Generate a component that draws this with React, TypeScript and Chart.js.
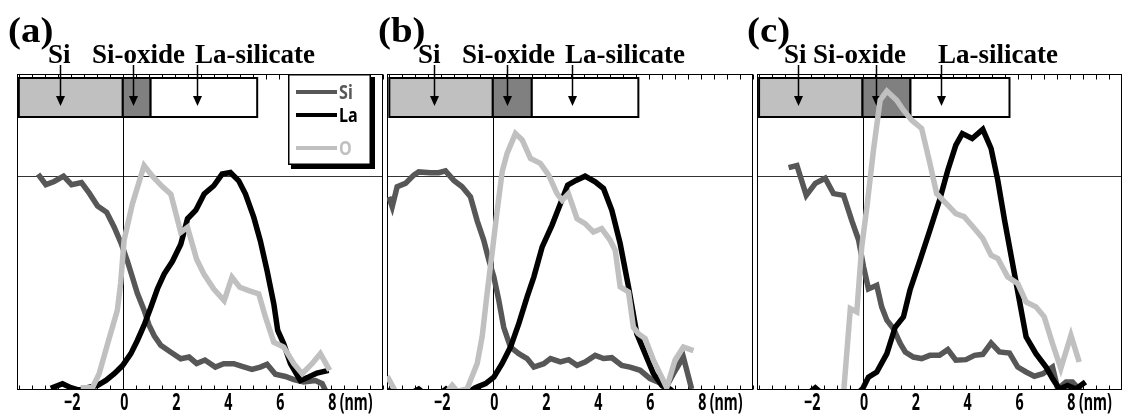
import React, { useEffect, useRef } from "react";
import { Chart, registerables } from "chart.js";

Chart.register(...registerables);

type Pt = [number, number];

// ---------- data (x in nm, y = normalized intensity) ----------
const SERIES_NAMES = ["Si", "La", "O"];
const LAYER_NAMES = ["Si", "Si-oxide", "La-silicate"];
const TICK_LABELS = [-2, 0, 2, 4, 6, 8];
const UNIT_LABEL = "(nm)";
const PANEL_TAGS = ["(a)", "(b)", "(c)"];

const A_SI: Pt[] = [
  [-3.26, 1.01], [-2.96, 0.96], [-2.64, 0.975], [-2.28, 1.0], [-1.97, 0.96], [-1.59, 0.97],
  [-1.29, 0.92], [-0.97, 0.86], [-0.62, 0.83], [-0.33, 0.76], [-0.05, 0.68], [0.18, 0.6],
  [0.37, 0.525], [0.56, 0.45], [0.82, 0.37], [1.01, 0.3], [1.21, 0.25], [1.46, 0.205],
  [1.85, 0.173], [2.23, 0.142], [2.55, 0.15], [2.84, 0.12], [3.16, 0.136], [3.56, 0.103],
  [3.88, 0.119], [4.27, 0.119], [4.59, 0.106], [4.97, 0.092], [5.29, 0.103], [5.55, 0.116],
  [5.87, 0.069], [6.26, 0.059], [6.58, 0.044], [6.96, 0.033], [7.41, 0.04], [7.67, 0.025],
  [7.85, -0.02],
];
const A_LA: Pt[] = [
  [-2.77, 0.003], [-2.32, 0.025], [-2.0, 0.006], [-1.68, -0.005], [-1.36, 0.006], [-0.97, 0.017],
  [-0.65, 0.04], [-0.33, 0.072], [-0.01, 0.11], [0.31, 0.166], [0.56, 0.228], [0.82, 0.3],
  [1.08, 0.384], [1.33, 0.47], [1.59, 0.54], [1.91, 0.6], [2.23, 0.68], [2.49, 0.8],
  [2.81, 0.84], [3.13, 0.916], [3.5, 0.955], [3.82, 1.01], [4.14, 1.017], [4.46, 0.978],
  [4.72, 0.916], [5.04, 0.806], [5.29, 0.697], [5.55, 0.556], [5.81, 0.4], [5.96, 0.275],
  [6.19, 0.2125], [6.45, 0.119], [6.83, 0.04], [7.15, 0.056], [7.47, 0.075], [7.92, 0.0875],
];
const A_O: Pt[] = [
  [-1.62, 0.006], [-1.17, 0.006], [-0.91, 0.072], [-0.59, 0.21], [-0.21, 0.37], [-0.08, 0.5],
  [0.05, 0.7], [0.37, 0.87], [0.82, 1.05], [1.14, 1.0], [1.53, 0.95], [1.85, 0.915],
  [2.23, 0.736], [2.49, 0.76], [2.84, 0.61], [3.12, 0.54], [3.5, 0.47], [3.9, 0.415],
  [4.2, 0.525], [4.5, 0.478], [4.85, 0.4625], [5.23, 0.447], [5.49, 0.3375], [5.81, 0.22],
  [6.19, 0.197], [6.58, 0.119], [6.9, 0.072], [7.28, 0.119], [7.6, 0.166], [7.96, 0.0875],
];

const B_SI: Pt[] = [
  [-4.0, 0.903], [-3.87, 0.856], [-3.68, 0.95], [-3.36, 0.966], [-3.04, 1.005], [-2.85, 1.02],
  [-2.4, 1.016], [-2.08, 1.016], [-1.82, 1.025], [-1.5, 0.98], [-1.18, 0.95], [-0.86, 0.903],
  [-0.6, 0.79], [-0.35, 0.7], [-0.15, 0.605], [0.04, 0.527], [0.23, 0.417], [0.42, 0.29],
  [0.68, 0.197], [1.0, 0.166], [1.32, 0.143], [1.58, 0.103], [1.96, 0.119], [2.22, 0.143],
  [2.6, 0.127], [2.92, 0.138], [3.24, 0.111], [3.55, 0.127], [3.94, 0.158], [4.26, 0.143],
  [4.58, 0.147], [4.96, 0.111], [5.28, 0.103], [5.67, 0.088], [6.05, 0.049], [6.44, 0.028],
  [6.63, 0.0], [6.95, 0.072], [7.33, 0.15], [7.65, 0.0],
];
const B_LA: Pt[] = [
  [-4.05, 0.0], [-3.7, -0.04], [-3.3, -0.03], [-2.85, 0.0], [-2.45, -0.04], [-2.1, -0.03],
  [-1.8, 0.0], [-1.5, -0.03], [-1.0, -0.02], [-0.67, 0.006], [-0.28, 0.025], [0.04, 0.056],
  [0.36, 0.12], [0.68, 0.197], [1.0, 0.307], [1.32, 0.433], [1.58, 0.527], [1.9, 0.668],
  [2.28, 0.77], [2.6, 0.87], [2.88, 0.958], [3.2, 0.98], [3.55, 1.0], [3.94, 0.973],
  [4.26, 0.942], [4.58, 0.84], [4.9, 0.683], [5.22, 0.48], [5.54, 0.26], [5.86, 0.166],
  [6.18, 0.072], [6.5, 0.017], [6.82, 0.0], [7.1, -0.03],
];
const B_O: Pt[] = [
  [-4.06, 0.06], [-3.75, -0.01], [-3.4, -0.04], [-3.0, -0.03], [-2.6, -0.04], [-2.2, -0.03],
  [-1.8, -0.02], [-1.56, 0.017], [-1.37, -0.01], [-0.99, 0.0], [-0.6, 0.12], [-0.41, 0.245],
  [-0.22, 0.448], [-0.03, 0.636], [0.17, 0.84], [0.36, 1.02], [0.55, 1.107], [0.87, 1.2],
  [1.13, 1.17], [1.45, 1.083], [1.83, 1.06], [2.15, 1.005], [2.47, 0.918], [2.67, 0.887],
  [2.91, 0.918], [3.24, 0.8], [3.55, 0.777], [3.87, 0.738], [4.19, 0.754], [4.51, 0.7],
  [4.71, 0.652], [4.9, 0.48], [5.22, 0.456], [5.41, 0.29], [5.6, 0.26], [5.86, 0.237],
  [6.18, 0.135], [6.56, 0.04], [6.69, 0.006], [7.01, 0.135], [7.33, 0.197], [7.72, 0.18],
];

const C_SI: Pt[] = [
  [-2.85, 1.04], [-2.53, 1.05], [-2.17, 0.91], [-1.82, 0.966], [-1.44, 0.99], [-1.12, 0.918],
  [-0.73, 0.91], [-0.41, 0.79], [-0.15, 0.7], [0.04, 0.574], [0.23, 0.47], [0.55, 0.487],
  [0.74, 0.386], [0.94, 0.323], [1.19, 0.284], [1.46, 0.213], [1.65, 0.174], [1.96, 0.15],
  [2.28, 0.143], [2.6, 0.158], [2.97, 0.158], [3.29, 0.185], [3.6, 0.135], [3.99, 0.138],
  [4.32, 0.158], [4.64, 0.163], [4.96, 0.216], [5.28, 0.174], [5.67, 0.169], [5.99, 0.103],
  [6.31, 0.08], [6.63, 0.06], [6.96, 0.072], [7.33, 0.103], [7.53, 0.0], [7.85, 0.033],
  [8.1, 0.033], [8.42, -0.01],
];
const C_LA: Pt[] = [
  [-2.3, -0.04], [-1.82, 0.006], [-1.4, -0.04], [-0.5, -0.05], [0.0, 0.0], [0.23, 0.056],
  [0.55, 0.08], [0.94, 0.166], [1.26, 0.29], [1.58, 0.339], [1.83, 0.464], [2.22, 0.605],
  [2.6, 0.746], [2.97, 0.887], [3.29, 1.028], [3.6, 1.146], [3.85, 1.2], [4.23, 1.177],
  [4.64, 1.22], [4.96, 1.13], [5.22, 0.98], [5.48, 0.793], [5.79, 0.589], [6.05, 0.417],
  [6.31, 0.245], [6.69, 0.166], [7.08, 0.103], [7.33, 0.049], [7.59, 0.0], [7.91, 0.017],
  [8.23, 0.0], [8.6, 0.033],
];
const C_O: Pt[] = [
  [-0.75, -0.05], [-0.47, 0.378], [-0.22, 0.362], [-0.03, 0.668], [0.17, 0.856], [0.42, 1.12],
  [0.68, 1.357], [0.94, 1.4], [1.32, 1.357], [1.58, 1.31], [1.9, 1.263], [2.28, 1.224],
  [2.6, 1.06], [2.86, 0.918], [3.29, 0.864], [3.6, 0.824], [3.92, 0.81], [4.26, 0.762],
  [4.64, 0.707], [4.96, 0.629], [5.22, 0.613], [5.6, 0.527], [5.99, 0.495], [6.31, 0.409],
  [6.69, 0.386], [7.01, 0.339], [7.33, 0.213], [7.65, 0.096], [8.04, 0.252], [8.36, 0.127],
];

// layer boundaries (nm) and arrow positions (nm)
const A_LAYERS = [-4.0, 0, 1.07, 5.17];
const B_LAYERS = [-3.98, 0, 1.5, 5.6];
const C_LAYERS = [-3.99, 0, 1.85, 5.67];
const A_ARROWS = [-2.42, 0.39, 2.85];
const B_ARROWS = [-2.28, 0.53, 3.04];
const C_ARROWS = [-2.49, 0.51, 3.01];

// ---------- layout / style ----------
const W = 1122;
const H = 416;
const X_MIN = -4.07;
const X_MAX = 10.01;
const Y_MAX = 1.48;
const TICK_STEP = 0.5;
const PLOT_TOP = 74;
const PLOT_BOTTOM = 389;
const PLOT_W = 366;
const LINE_W = 5.5;
const COL_SI = "#575757";
const COL_LA = "#000000";
const COL_O = "#c0c0c0";
const LAYER_FILLS = ["#c0c0c0", "#808080", "#ffffff"];
const GOTHIC = "'Noto Sans', 'DejaVu Sans', sans-serif";
const SERIF = "'Liberation Serif', 'Times New Roman', serif";

type Panel = {
  si: Pt[]; la: Pt[]; o: Pt[];
  layers: number[]; arrows: number[];
  left: number; nameX: number[]; tagX: number; legend: boolean;
};

const PANELS: Panel[] = [
  { si: A_SI, la: A_LA, o: A_O, layers: A_LAYERS, arrows: A_ARROWS, left: 17, nameX: [48, 92, 195], tagX: 8, legend: true },
  { si: B_SI, la: B_LA, o: B_O, layers: B_LAYERS, arrows: B_ARROWS, left: 387, nameX: [418, 462, 565], tagX: 378, legend: false },
  { si: C_SI, la: C_LA, o: C_O, layers: C_LAYERS, arrows: C_ARROWS, left: 757, nameX: [784, 813, 938], tagX: 747, legend: false },
];

function scaledText(
  ctx: CanvasRenderingContext2D, text: string, x: number, y: number,
  font: string, sx: number, align: "left" | "center", color: string,
) {
  ctx.save();
  ctx.font = font;
  ctx.fillStyle = color;
  ctx.textAlign = "left";
  ctx.textBaseline = "alphabetic";
  const w = ctx.measureText(text).width * sx;
  const x0 = align === "center" ? x - w / 2 : x;
  ctx.translate(x0, y);
  ctx.scale(sx, 1);
  ctx.fillText(text, 0, 0);
  ctx.restore();
}

function seg(ctx: CanvasRenderingContext2D, x1: number, y1: number, x2: number, y2: number) {
  ctx.beginPath();
  ctx.moveTo(x1, y1);
  ctx.lineTo(x2, y2);
  ctx.stroke();
}

function makePlugin(p: Panel, index: number) {
  return {
    id: "panelDeco" + index,
    beforeDatasetsDraw(chart: any) {
      const { ctx, chartArea: a } = chart;
      const xs = chart.scales.x;
      const ys = chart.scales.y;
      ctx.save();
      ctx.lineWidth = 1;
      // y = 1 reference line
      const y1 = Math.round(ys.getPixelForValue(1)) + 0.5;
      ctx.strokeStyle = "#333";
      seg(ctx, a.left, y1, a.right, y1);
      // x = 0 reference line
      ctx.strokeStyle = "#000";
      const x0 = Math.round(xs.getPixelForValue(0)) + 0.5;
      seg(ctx, x0, a.top, x0, a.bottom);
      // frame
      const L = Math.round(a.left) + 0.5;
      const R = Math.round(a.right) - 0.5;
      const T = Math.round(a.top) + 0.5;
      const B = Math.round(a.bottom) + 0.5;
      seg(ctx, L, T, L, B);
      seg(ctx, R, T, R, B);
      seg(ctx, a.left, T, a.right, T);
      seg(ctx, a.left, B, a.right, B);
      // minor ticks (inside)
      const first = Math.ceil(X_MIN / TICK_STEP);
      const last = Math.floor(X_MAX / TICK_STEP);
      for (let k = first; k <= last; k++) {
        const px = Math.round(xs.getPixelForValue(k * TICK_STEP)) + 0.5;
        seg(ctx, px, B, px, B - 4);
        seg(ctx, px, T, px, T + 5);
      }
      // layer boxes
      const bt = a.top + 4;
      const bb = a.top + 43;
      ctx.lineWidth = 2;
      for (let i = 0; i < 3; i++) {
        const l = xs.getPixelForValue(p.layers[i]);
        const r = xs.getPixelForValue(p.layers[i + 1]);
        ctx.fillStyle = LAYER_FILLS[i];
        ctx.fillRect(l, bt, r - l, bb - bt);
        ctx.strokeStyle = "#000";
        ctx.strokeRect(l, bt, r - l, bb - bt);
      }
      // arrows
      ctx.lineWidth = 1.5;
      ctx.fillStyle = "#000";
      for (const v of p.arrows) {
        const ax = Math.round(xs.getPixelForValue(v)) + 0.5;
        seg(ctx, ax, 65, ax, 97);
        ctx.beginPath();
        ctx.moveTo(ax - 4.5, 96);
        ctx.lineTo(ax + 4.5, 96);
        ctx.lineTo(ax, 106);
        ctx.closePath();
        ctx.fill();
      }
      ctx.restore();
    },
    afterDraw(chart: any) {
      const { ctx, chartArea: a } = chart;
      const xs = chart.scales.x;
      ctx.save();
      // panel tag and layer names
      scaledText(ctx, PANEL_TAGS[index], p.tagX, 42, `bold 36px ${SERIF}`, 1.08, "left", "#000");
      LAYER_NAMES.forEach((n, i) => {
        scaledText(ctx, n, p.nameX[i], 63, `bold 27px ${SERIF}`, 1, "left", "#000");
      });
      // tick labels
      const fontT = `bold 23px ${GOTHIC}`;
      TICK_LABELS.forEach((v) => {
        const px = xs.getPixelForValue(v) + 1.5;
        const txt = v < 0 ? "\u2212" + Math.abs(v) : String(v);
        scaledText(ctx, txt, px, 410, fontT, 0.62, "center", "#000");
      });
      const p8 = xs.getPixelForValue(TICK_LABELS[TICK_LABELS.length - 1]);
      scaledText(ctx, UNIT_LABEL, p8 + 9, 410, fontT, 0.62, "left", "#000");
      // legend
      if (p.legend) {
        const lx = 288, ly = a.top, lw = 83, lh = 91;
        ctx.fillStyle = "#000";
        ctx.fillRect(lx + 3, ly + 3, lw + 1, lh + 1);
        ctx.fillStyle = "#fff";
        ctx.fillRect(lx, ly, lw, lh);
        ctx.strokeStyle = "#000";
        ctx.lineWidth = 1.5;
        ctx.strokeRect(lx + 0.75, ly + 0.75, lw - 1.5, lh - 1.5);
        const rows = [92, 115, 148];
        const cols = [COL_SI, COL_LA, COL_O];
        SERIES_NAMES.forEach((n, i) => {
          ctx.strokeStyle = cols[i];
          ctx.lineWidth = 4;
          seg(ctx, 296, rows[i], 337, rows[i]);
          scaledText(ctx, n, 339, rows[i] + 7, `bold 19px ${GOTHIC}`, 0.85, "left", cols[i]);
        });
      }
      ctx.restore();
    },
  };
}

function makeConfig(p: Panel, index: number): any {
  const ds = (label: string, pts: Pt[], color: string) => ({
    label,
    data: pts.map(([x, y]) => ({ x, y })),
    borderColor: color,
    backgroundColor: color,
    borderWidth: LINE_W,
    pointRadius: 0,
    tension: 0,
    fill: false,
    clip: 0,
    borderJoinStyle: "miter",
    borderCapStyle: "butt",
  });
  return {
    type: "line",
    data: {
      datasets: [
        ds(SERIES_NAMES[2], p.o, COL_O),
        ds(SERIES_NAMES[1], p.la, COL_LA),
        ds(SERIES_NAMES[0], p.si, COL_SI),
      ],
    },
    options: {
      animation: false,
      responsive: false,
      events: [],
      layout: {
        autoPadding: false,
        padding: { left: p.left, right: W - p.left - PLOT_W, top: PLOT_TOP, bottom: H - PLOT_BOTTOM },
      },
      plugins: { legend: { display: false }, tooltip: { enabled: false } },
      scales: {
        x: { type: "linear", min: X_MIN, max: X_MAX, display: false },
        y: { type: "linear", min: 0, max: Y_MAX, display: false },
      },
    },
    plugins: [makePlugin(p, index)],
  };
}

export default function App() {
  const r0 = useRef<HTMLCanvasElement>(null);
  const r1 = useRef<HTMLCanvasElement>(null);
  const r2 = useRef<HTMLCanvasElement>(null);
  const refs = [r0, r1, r2];
  useEffect(() => {
    const charts = PANELS.map((p, i) => new Chart(refs[i].current as HTMLCanvasElement, makeConfig(p, i)));
    return () => charts.forEach((c) => c.destroy());
  }, []);
  return (
    <div style={{ position: "absolute", left: 0, top: 0, width: W, height: H, background: "#fff", overflow: "hidden" }}>
      {PANELS.map((_, i) => (
        <canvas
          key={i}
          ref={refs[i]}
          width={W}
          height={H}
          style={{ position: "absolute", left: 0, top: 0, width: W, height: H }}
        />
      ))}
    </div>
  );
}
